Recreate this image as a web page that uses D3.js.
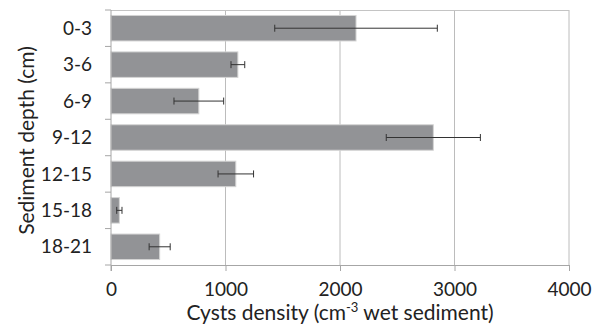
<!DOCTYPE html>
<html>
<head>
<meta charset="utf-8">
<script src="https://cdn.jsdelivr.net/npm/d3@7"></script>
<style>
  body { margin: 0; background: #fff; }
  text { font-family: Lato, "Open Sans", sans-serif; fill: #222; }
</style>
</head>
<body>
<div id="chart"></div>
<script>
// depth classes, mean density and error (half range)
var depths = ["0-3", "3-6", "6-9", "9-12", "12-15", "15-18", "18-21"];
var density = [2140, 1108, 767, 2815, 1090, 73, 425];
var errors = [710, 60, 217, 411, 155, 23, 92];
var xTicks = [0, 1000, 2000, 3000, 4000];

var width = 602, height = 331;
var margin = {top: 10, right: 33, bottom: 66, left: 111};

var svg = d3.select("#chart")
  .append("svg")
  .attr("width", width)
  .attr("height", height);

var x = d3.scaleLinear()
  .domain([0, 4000])
  .range([margin.left, width - margin.right]);

var y = d3.scaleBand()
  .domain(depths)
  .range([margin.top, height - margin.bottom])
  .paddingInner(0.3)
  .paddingOuter(0.15);

var data = depths.map(function (d, i) {
  return {depth: d, value: density[i], err: errors[i]};
});

// gridlines
svg.append("g")
  .selectAll("line")
  .data(xTicks.slice(1))
  .enter().append("line")
  .attr("x1", function (d) { return x(d); })
  .attr("x2", function (d) { return x(d); })
  .attr("y1", margin.top)
  .attr("y2", height - margin.bottom)
  .style("stroke", "#bcbcbc")
  .style("stroke-width", 1);

// top border
svg.append("line")
  .attr("x1", x(0)).attr("x2", x(4000))
  .attr("y1", margin.top + 0.5).attr("y2", margin.top + 0.5)
  .style("stroke", "#c4c4c4");

// bars
svg.append("g")
  .selectAll("rect")
  .data(data)
  .enter().append("rect")
  .attr("x", x(0))
  .attr("y", function (d) { return y(d.depth); })
  .attr("width", function (d) { return x(d.value) - x(0); })
  .attr("height", y.bandwidth())
  .style("fill", "#929396")
  .style("stroke", "#d4d4d4")
  .style("stroke-width", 1);

// error bars
var eb = svg.append("g")
  .selectAll("g")
  .data(data)
  .enter().append("g")
  .attr("transform", function (d) {
    return "translate(0," + (y(d.depth) + y.bandwidth() / 2) + ")";
  })
  .style("stroke", "#333")
  .style("stroke-width", 1);

eb.append("line")
  .attr("x1", function (d) { return x(d.value - d.err); })
  .attr("x2", function (d) { return x(d.value + d.err); })
  .attr("y1", 0).attr("y2", 0);
eb.append("line")
  .attr("x1", function (d) { return x(d.value - d.err); })
  .attr("x2", function (d) { return x(d.value - d.err); })
  .attr("y1", -3.5).attr("y2", 3.5);
eb.append("line")
  .attr("x1", function (d) { return x(d.value + d.err); })
  .attr("x2", function (d) { return x(d.value + d.err); })
  .attr("y1", -3.5).attr("y2", 3.5);

// x axis
var xAxis = svg.append("g")
  .attr("transform", "translate(0," + (height - margin.bottom) + ")")
  .call(d3.axisBottom(x).tickValues(xTicks).tickSize(6).tickPadding(12).tickFormat(d3.format("d")));
xAxis.select(".domain").style("stroke", "#a6a6a6");
xAxis.selectAll(".tick line").style("stroke", "#a6a6a6");
xAxis.selectAll("text").style("font-size", "19px").style("fill", "#222");

// y axis with ticks on band boundaries
var yAxis = svg.append("g")
  .attr("transform", "translate(" + x(0) + ",0)");
yAxis.append("line")
  .attr("x1", 0).attr("x2", 0)
  .attr("y1", margin.top).attr("y2", height - margin.bottom + 6)
  .style("stroke", "#a6a6a6");
var step = (height - margin.bottom - margin.top) / depths.length;
yAxis.selectAll(".ytick")
  .data(d3.range(depths.length + 1))
  .enter().append("line")
  .attr("class", "ytick")
  .attr("x1", -6).attr("x2", 0)
  .attr("y1", function (i) { return margin.top + i * step; })
  .attr("y2", function (i) { return margin.top + i * step; })
  .style("stroke", "#a6a6a6");
yAxis.selectAll(".ylab")
  .data(depths)
  .enter().append("text")
  .attr("class", "ylab")
  .attr("x", -19)
  .attr("y", function (d) { return y(d) + y.bandwidth() / 2; })
  .attr("dy", "0.35em")
  .attr("text-anchor", "end")
  .style("font-size", "19px")
  .text(function (d) { return d; });

// axis titles
var xt = svg.append("text")
  .attr("x", (x(0) + x(4000)) / 2 - 0)
  .attr("y", 320)
  .attr("text-anchor", "middle")
  .style("font-size", "21px");
xt.append("tspan").text("Cysts density (cm");
xt.append("tspan").attr("dy", -8).style("font-size", "13px").text("-3");
xt.append("tspan").attr("dy", 8).text(" wet sediment)");

svg.append("text")
  .attr("transform", "translate(34," + ((margin.top + height - margin.bottom) / 2 + 3) + ") rotate(-90)")
  .attr("text-anchor", "middle")
  .style("font-size", "21px")
  .text("Sediment depth (cm)");
</script>
</body>
</html>
